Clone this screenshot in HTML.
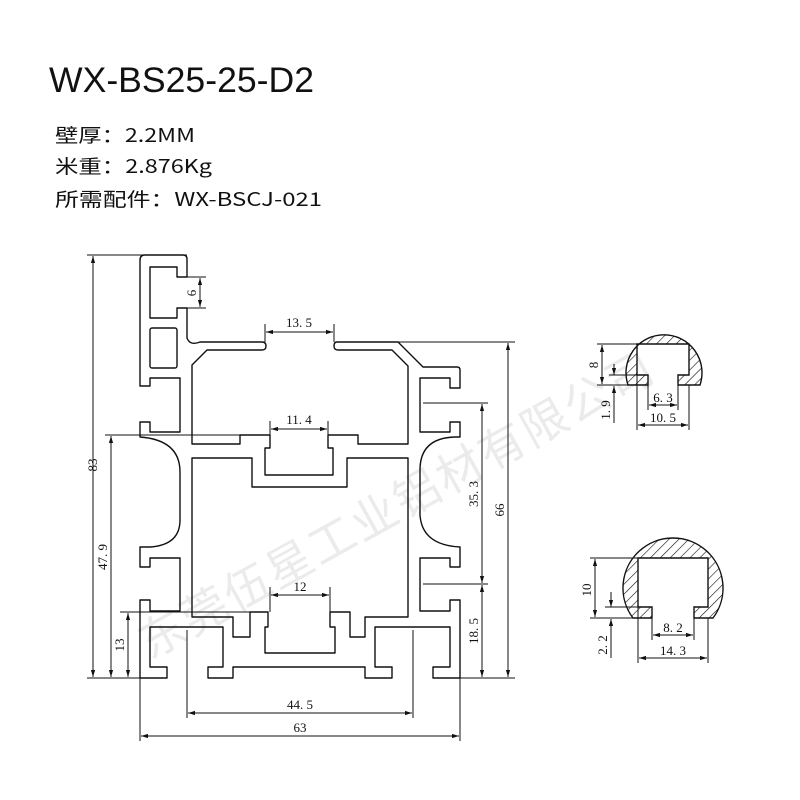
<!DOCTYPE html>
<html><head><meta charset="utf-8"><style>
html,body{margin:0;padding:0;background:#fff;}
svg{display:block;}
.t{font-family:"Liberation Sans","Noto Sans CJK SC",sans-serif;fill:#111;}
.c{font-family:"Noto Sans CJK SC",sans-serif;fill:#111;}
.d{font-family:"Liberation Serif","Noto Serif CJK SC",serif;font-size:13px;fill:#111;}
</style></head><body>
<svg width="800" height="800" viewBox="0 0 800 800" xmlns="http://www.w3.org/2000/svg">
<defs>
<pattern id="h" patternUnits="userSpaceOnUse" width="7" height="7" patternTransform="rotate(45)">
<rect width="7" height="7" fill="#fff"/><line x1="0" y1="0" x2="0" y2="7" stroke="#111" stroke-width="1.2"/></pattern>
<marker id="a" viewBox="0 0 10 10" refX="10" refY="5" markerWidth="7" markerHeight="7" orient="auto-start-reverse"><path d="M0,2 L10,5 L0,8 z" fill="#111"/></marker>
</defs>
<rect width="800" height="800" fill="#fff"/>
<text class="t" x="49" y="92" font-size="35" textLength="265" lengthAdjust="spacingAndGlyphs">WX-BS25-25-D2</text>
<text class="c" x="55" y="142" font-size="19" textLength="140" lengthAdjust="spacingAndGlyphs">壁厚：2.2MM</text>
<text class="c" x="55" y="173" font-size="19" textLength="157" lengthAdjust="spacingAndGlyphs">米重：2.876Kg</text>
<text class="c" x="55" y="206" font-size="19" textLength="267" lengthAdjust="spacingAndGlyphs">所需配件：WX-BSCJ-021</text>

<!-- watermark -->
<text x="150" y="660" transform="rotate(-29 150 660)" font-family="'Noto Sans CJK SC',sans-serif" font-size="46" fill="#ebebeb" textLength="580" lengthAdjust="spacing">东莞伍星工业铝材有限公司</text>

<g fill="none" stroke="#111" stroke-width="1.4" stroke-linejoin="round">
<path d="M187,277 L187,259 Q187,255 183,255 L145,255 Q140,255 140,260 L140,386 L150,386 L150,378 L180,378 L180,432 L150,432 L150,422 L140,422 L140,437 Q180,440 180,472 L180,520 Q180,545 150,547 L140,547 L140,567 L150,567 L150,558 L180,558 L180,611 L150,611 L150,600 L140,600 L140,678 L167,678 L167,667 L150,667 L150,627 L223,627 L223,667 L208,667 L208,678 L233,678 L233,667 L365,667 L365,678 L392,678 L392,667 L375,667 L375,627 L450,627 L450,667 L433,667 L433,678 L460,678 L460,600 L450,600 L450,611 L420,611 L420,558 L450,558 L450,567 L460,567 L460,547 Q422,545 420,515 L420,470 Q420,438 455,437 L460,437 L460,422 L450,422 L450,432 L420,432 L420,378 L450,378 L450,388 L460,388 L460,370 Q460,367 457,367 L423,367 L398,342 L337,342 Q334,342 334,346 Q334,350 338,350 L392,350 L408,366 L408,444 L358,444 L358,435 L328,435 L328,448 L333,448 L333,475 L265,475 L265,448 L270,448 L270,435 L240,435 L240,444 L192,444 L192,365 L207,350 L262,350 Q266,350 266,346 Q266,342 262,342 L200,342 Q190,346 187,338 L187,308 L177,308 L177,318 L150,318 L150,267 L177,267 L177,277 Z"/>
<rect x="150" y="328" width="27" height="40" rx="2"/>
<path d="M192,458 L252,458 L252,487 L347,487 L347,458 L408,458 L408,617 L365,617 L365,637 L350,637 L350,612 L330,612 L330,627 L335,627 L335,653 L265,653 L265,627 L268,627 L268,612 L250,612 L250,637 L233,637 L233,617 L192,617 Z"/>
</g>

<g stroke="#111" stroke-width="1" fill="none">
<line x1="87" y1="255" x2="187" y2="255"/><line x1="87" y1="678" x2="140" y2="678"/>
<line x1="93" y1="256" x2="93" y2="677" marker-start="url(#a)" marker-end="url(#a)"/>
<line x1="105" y1="435" x2="240" y2="435"/>
<line x1="111" y1="436" x2="111" y2="677" marker-start="url(#a)" marker-end="url(#a)"/>
<line x1="120" y1="612" x2="250" y2="612"/>
<line x1="128" y1="613" x2="128" y2="677" marker-start="url(#a)" marker-end="url(#a)"/>
<line x1="187" y1="277" x2="206" y2="277"/><line x1="187" y1="308" x2="206" y2="308"/>
<line x1="200" y1="278" x2="200" y2="307" marker-start="url(#a)" marker-end="url(#a)"/>
<line x1="265" y1="324" x2="265" y2="342"/><line x1="334" y1="324" x2="334" y2="342"/>
<line x1="266" y1="332" x2="333" y2="332" marker-start="url(#a)" marker-end="url(#a)"/>
<line x1="270" y1="421" x2="270" y2="435"/><line x1="328" y1="421" x2="328" y2="435"/>
<line x1="271" y1="429" x2="327" y2="429" marker-start="url(#a)" marker-end="url(#a)"/>
<line x1="270" y1="587" x2="270" y2="612"/><line x1="330" y1="587" x2="330" y2="612"/>
<line x1="271" y1="595" x2="329" y2="595" marker-start="url(#a)" marker-end="url(#a)"/>
<line x1="187" y1="630" x2="187" y2="718"/><line x1="413" y1="630" x2="413" y2="718"/>
<line x1="188" y1="713" x2="412" y2="713" marker-start="url(#a)" marker-end="url(#a)"/>
<line x1="140" y1="678" x2="140" y2="741"/><line x1="460" y1="678" x2="460" y2="741"/>
<line x1="141" y1="736" x2="459" y2="736" marker-start="url(#a)" marker-end="url(#a)"/>
<line x1="398" y1="342" x2="515" y2="342"/><line x1="460" y1="678" x2="515" y2="678"/>
<line x1="508" y1="343" x2="508" y2="677" marker-start="url(#a)" marker-end="url(#a)"/>
<line x1="423" y1="403" x2="488" y2="403"/><line x1="423" y1="584" x2="488" y2="584"/>
<line x1="482" y1="404" x2="482" y2="583" marker-start="url(#a)" marker-end="url(#a)"/>
<line x1="482" y1="585" x2="482" y2="677" marker-start="url(#a)" marker-end="url(#a)"/>
</g>
<g class="d">
<text transform="translate(97,465) rotate(-90)" text-anchor="middle">83</text>
<text transform="translate(107,557) rotate(-90)" text-anchor="middle">47. 9</text>
<text transform="translate(124,645) rotate(-90)" text-anchor="middle">13</text>
<text transform="translate(196,293) rotate(-90)" text-anchor="middle">6</text>
<text x="299" y="327" text-anchor="middle">13. 5</text>
<text x="299" y="424" text-anchor="middle">11. 4</text>
<text x="300" y="591" text-anchor="middle">12</text>
<text x="300" y="709" text-anchor="middle">44. 5</text>
<text x="300" y="732" text-anchor="middle">63</text>
<text transform="translate(504,510) rotate(-90)" text-anchor="middle">66</text>
<text transform="translate(478,494) rotate(-90)" text-anchor="middle">35. 3</text>
<text transform="translate(478,631) rotate(-90)" text-anchor="middle">18. 5</text>
</g>

<path d="M628,385 A38,38 0 1 1 700,385 L678,385 L678,375 L689,375 L689,344 L637,344 L637,375 L648,375 L648,385 Z" fill="url(#h)" stroke="#111" stroke-width="1.4"/>
<g stroke="#111" stroke-width="1" fill="none">
<line x1="597" y1="344" x2="637" y2="344"/><line x1="597" y1="385" x2="628" y2="385"/>
<line x1="602" y1="345" x2="602" y2="384" marker-start="url(#a)" marker-end="url(#a)"/>
<line x1="609" y1="375" x2="637" y2="375"/>
<line x1="614" y1="364" x2="614" y2="375" marker-end="url(#a)"/>
<line x1="614" y1="423" x2="614" y2="386" marker-end="url(#a)"/>
<line x1="648" y1="385" x2="648" y2="410"/><line x1="678" y1="385" x2="678" y2="410"/>
<line x1="649" y1="405" x2="677" y2="405" marker-start="url(#a)" marker-end="url(#a)"/>
<line x1="637" y1="375" x2="637" y2="430"/><line x1="689" y1="385" x2="689" y2="430"/>
<line x1="638" y1="425" x2="688" y2="425" marker-start="url(#a)" marker-end="url(#a)"/>
</g>
<g class="d">
<text transform="translate(598,365) rotate(-90)" text-anchor="middle">8</text>
<text transform="translate(610,410) rotate(-90)" text-anchor="middle">1. 9</text>
<text x="663" y="402" text-anchor="middle">6. 3</text>
<text x="663" y="422" text-anchor="middle">10. 5</text>
</g>

<path d="M633,618 A50,50 0 1 1 713,618 L694,618 L694,607 L708,607 L708,558 L638,558 L638,607 L652,607 L652,618 Z" fill="url(#h)" stroke="#111" stroke-width="1.4"/>
<g stroke="#111" stroke-width="1" fill="none">
<line x1="590" y1="558" x2="638" y2="558"/><line x1="590" y1="618" x2="633" y2="618"/>
<line x1="595" y1="559" x2="595" y2="617" marker-start="url(#a)" marker-end="url(#a)"/>
<line x1="605" y1="607" x2="638" y2="607"/>
<line x1="611" y1="592" x2="611" y2="607" marker-end="url(#a)"/>
<line x1="611" y1="658" x2="611" y2="619" marker-end="url(#a)"/>
<line x1="652" y1="618" x2="652" y2="640"/><line x1="694" y1="618" x2="694" y2="640"/>
<line x1="653" y1="635" x2="693" y2="635" marker-start="url(#a)" marker-end="url(#a)"/>
<line x1="638" y1="607" x2="638" y2="663"/><line x1="708" y1="618" x2="708" y2="663"/>
<line x1="639" y1="658" x2="707" y2="658" marker-start="url(#a)" marker-end="url(#a)"/>
</g>
<g class="d">
<text transform="translate(591,590) rotate(-90)" text-anchor="middle">10</text>
<text transform="translate(607,645) rotate(-90)" text-anchor="middle">2. 2</text>
<text x="673" y="632" text-anchor="middle">8. 2</text>
<text x="673" y="655" text-anchor="middle">14. 3</text>
</g>
</svg>
</body></html>
